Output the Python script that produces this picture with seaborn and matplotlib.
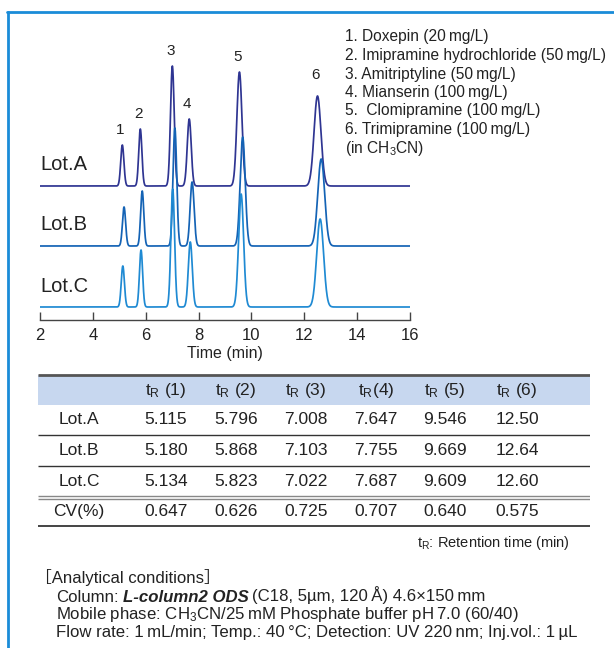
import numpy as np
import pandas as pd
import matplotlib
matplotlib.use("Agg")
import matplotlib.pyplot as plt
import seaborn as sns
from matplotlib.lines import Line2D
from matplotlib.patches import Rectangle

# ---------------- data ----------------
lots = ["Lot.A", "Lot.B", "Lot.C"]
peak_ids = ["1", "2", "3", "4", "5", "6"]
rt_A = [5.115, 5.796, 7.008, 7.647, 9.546, 12.50]
rt_B = [5.180, 5.868, 7.103, 7.755, 9.669, 12.64]
rt_C = [5.134, 5.823, 7.022, 7.687, 9.609, 12.60]
cv_pct = [0.647, 0.626, 0.725, 0.707, 0.640, 0.575]
height_A = [41, 57, 120, 67, 114, 90]
height_B = [39, 55, 118, 64, 109, 87]
height_C = [41, 57, 118, 65, 113, 88]
peak_sigma = [0.060, 0.060, 0.070, 0.075, 0.095, 0.130]
x_ticks = [2, 4, 6, 8, 10, 12, 14, 16]
compounds = [
    "1. Doxepin (20\u2009mg/L)",
    "2. Imipramine hydrochloride (50\u2009mg/L)",
    "3. Amitriptyline (50\u2009mg/L)",
    "4. Mianserin (100\u2009mg/L)",
    "5.  Clomipramine (100\u2009mg/L)",
    "6. Trimipramine (100\u2009mg/L)",
    "(in CH$_3$CN)",
]
header_labels = ["", "t$_\\mathrm{R}$ (1)", "t$_\\mathrm{R}$ (2)", "t$_\\mathrm{R}$ (3)",
                 "t$_\\mathrm{R}$(4)", "t$_\\mathrm{R}$ (5)", "t$_\\mathrm{R}$ (6)"]

# ---------------- style ----------------
sns.set_style("white")
plt.rcParams["font.family"] = ["Liberation Sans", "DejaVu Sans"]
plt.rcParams["mathtext.fontset"] = "custom"
plt.rcParams["mathtext.rm"] = "Liberation Sans"
plt.rcParams["mathtext.it"] = "Liberation Sans:italic"
plt.rcParams["mathtext.bf"] = "Liberation Sans:bold"

TXT = "#222222"
lot_colors = {"Lot.A": "#2f3592", "Lot.B": "#1463b5", "Lot.C": "#1f8ad3"}
lot_offset = {"Lot.A": 134, "Lot.B": 74, "Lot.C": 13}

W, H = 614, 648
fig = plt.figure(figsize=(W / 100, H / 100), dpi=100)
fig.patch.set_facecolor("white")


def fx(px):
    return px / W


def fy(py):
    return 1 - py / H


# ---------------- chromatogram ----------------
ax = fig.add_axes([fx(40), fy(320), 370 / W, 280 / H])
t = np.linspace(2, 16, 2801)
rts = {"Lot.A": rt_A, "Lot.B": rt_B, "Lot.C": rt_C}
hts = {"Lot.A": height_A, "Lot.B": height_B, "Lot.C": height_C}
frames = []
for lot in lots:
    sig = np.zeros_like(t)
    for r, h, s in zip(rts[lot], hts[lot], peak_sigma):
        sig += h * np.exp(-0.5 * ((t - r) / s) ** 2)
    frames.append(pd.DataFrame({"time": t, "signal": sig + lot_offset[lot], "lot": lot}))
df = pd.concat(frames, ignore_index=True)

sns.lineplot(data=df, x="time", y="signal", hue="lot", hue_order=lots,
             palette=lot_colors, estimator=None, sort=False, legend=False,
             linewidth=1.25, ax=ax)

ax.set_xlim(2, 16)
ax.set_ylim(0, 280)
ax.set_xticks(x_ticks)
ax.set_xticklabels([str(v) for v in x_ticks])
ax.set_yticks([])
ax.set_ylabel("")
ax.set_xlabel("Time (min)", fontsize=11.5, color=TXT, labelpad=2)
for sp in ["left", "top", "right"]:
    ax.spines[sp].set_visible(False)
ax.spines["bottom"].set_color("#444444")
ax.spines["bottom"].set_linewidth(1.0)
ax.tick_params(axis="x", direction="in", length=6, width=1, color="#444444",
               labelsize=12, labelcolor=TXT, pad=6, bottom=True)
ax.patch.set_alpha(0)

for lot in lots:
    ax.text(2.0, lot_offset[lot] + 21, lot, fontsize=14.5, color=TXT,
            ha="left", va="center")

label_dy = [8, 8, 8, 8, 8, 14]
for pid, r, h, dy in zip(peak_ids, rt_A, height_A, label_dy):
    ax.annotate(pid, xy=(r, h + lot_offset["Lot.A"]), xytext=(-2, dy),
                textcoords="offset pixels", ha="center", va="bottom",
                fontsize=11, color=TXT)

# ---------------- compound list ----------------
for i, line in enumerate(compounds):
    fig.text(fx(345), fy(37 + i * 18.5), line, fontsize=11.2, color=TXT,
             ha="left", va="center")

# ---------------- table ----------------
tax = fig.add_axes([fx(38), fy(530), 552 / W, 158 / H])
tax.set_xlim(38, 590)
tax.set_ylim(530, 372)
tax.axis("off")

tax.add_patch(Rectangle((38, 375), 552, 30, facecolor="#c7d7ef", edgecolor="none"))
tax.hlines(375, 38, 590, color="#555555", lw=2.0)
tax.hlines([435, 466], 38, 590, color="#333333", lw=1.0)
tax.hlines([495.5, 498.5], 38, 590, color="#888888", lw=1.0)
tax.hlines(526, 38, 590, color="#444444", lw=1.4)

TS = 12.5
col_x = [79, 166, 236, 306, 376, 445, 517]
row_y = [390, 420, 450.5, 481, 511.5]
for cx, lab in zip(col_x, header_labels):
    tax.text(cx, row_y[0], lab, ha="center", va="center", fontsize=TS, color=TXT)
rows = [(lots[0], rt_A), (lots[1], rt_B), (lots[2], rt_C)]
for ry, (name, vals) in zip(row_y[1:4], rows):
    tax.text(col_x[0], ry, name, ha="center", va="center", fontsize=TS, color=TXT)
    for cx, v in zip(col_x[1:], vals):
        tax.text(cx, ry, format(v, "#.4g"), ha="center", va="center", fontsize=TS, color=TXT)
tax.text(col_x[0], row_y[4], "CV(%)", ha="center", va="center", fontsize=TS, color=TXT)
for cx, v in zip(col_x[1:], cv_pct):
    tax.text(cx, row_y[4], f"{v:.3f}", ha="center", va="center", fontsize=TS, color=TXT)

fig.text(fx(570), fy(543), "t$_\\mathrm{R}$: Retention time (min)", ha="right",
         va="center", fontsize=10.5, color=TXT)

# ---------------- analytical conditions ----------------
CS = 12.1
fig.text(fx(35), fy(578), "\uff3bAnalytical conditions\uff3d", fontsize=CS, color=TXT,
         ha="left", va="center", family=["Liberation Sans", "Noto Sans CJK JP"])
c1 = fig.text(fx(56), fy(597), "Column:", fontsize=CS, color=TXT, ha="left", va="center")
c2 = fig.text(0, 0, "L-column2 ODS", fontsize=CS, color=TXT, fontweight="bold",
              fontstyle="italic")
c3 = fig.text(0, 0, "(C18, 5\u00b5m, 120\u2009\u00c5) 4.6\u00d7150\u2009mm", fontsize=CS, color=TXT)
fig.text(fx(56), fy(615), "Mobile phase: CH$_3$CN/25\u2009mM Phosphate buffer pH\u20097.0 (60/40)",
         fontsize=CS, color=TXT, ha="left", va="center")
fig.text(fx(56), fy(633),
         "Flow rate: 1\u2009mL/min; Temp.: 40\u2009\u00b0C; Detection: UV 220\u2009nm; Inj.vol.: 1\u2009\u00b5L",
         fontsize=CS, color=TXT, ha="left", va="center")

fig.canvas.draw()
r = fig.canvas.get_renderer()
bb1 = c1.get_window_extent(r)
space = 4
c2.set_transform(None)
c2.set_position((bb1.x1 + space, bb1.y0))
c2.set_va("bottom")
fig.canvas.draw()
bb2 = c2.get_window_extent(r)
c3.set_transform(None)
c3.set_position((bb2.x1 + space, bb1.y0))
c3.set_va("bottom")

# ---------------- border ----------------
blue = "#1a8cd8"
fig.add_artist(Line2D([fx(7), 1.0], [fy(12), fy(12)], color=blue, lw=2.0,
                      transform=fig.transFigure))
fig.add_artist(Line2D([fx(8), fx(8)], [fy(12), 0.0], color=blue, lw=2.0,
                      transform=fig.transFigure))

fig.savefig("out.png", dpi=100, facecolor="white")
